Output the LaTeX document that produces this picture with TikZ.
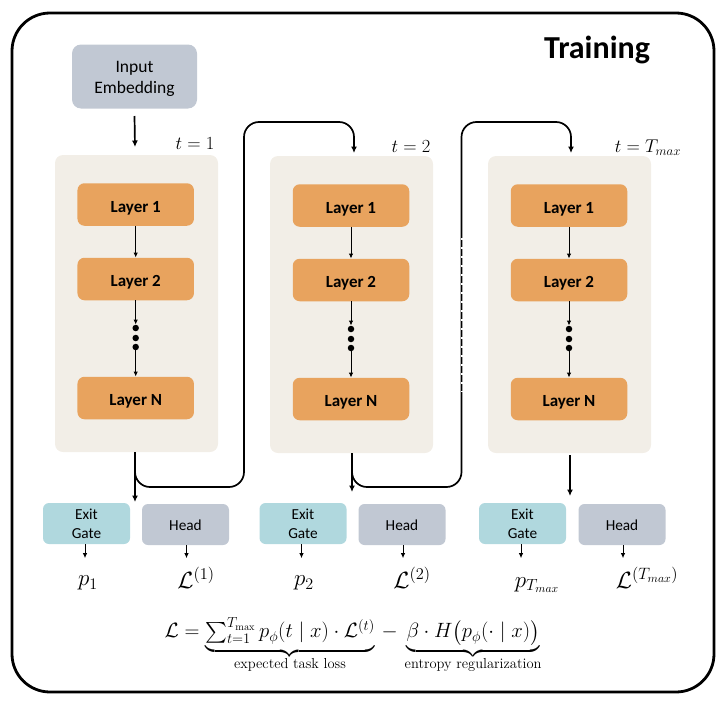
\documentclass[tikz,border=0pt]{standalone}
\usepackage{fix-cm}
\usepackage{amsmath}
\usepackage[no-math]{fontspec}
\newfontfamily\boxfont{Carlito}
\usetikzlibrary{arrows.meta}
\definecolor{boxgray}{HTML}{C1C8D3}
\definecolor{layerorange}{HTML}{E8A35E}
\definecolor{gateteal}{HTML}{B0D8DE}
\definecolor{blockbeige}{HTML}{F2EEE7}
\tikzset{
  blockbox/.style={fill=blockbeige,rounded corners=8pt,minimum width=163pt,minimum height=297pt,inner sep=0pt},
  layerbox/.style={fill=layerorange,rounded corners=7pt,minimum width=116.5pt,minimum height=42.5pt,inner sep=0pt,text height=15pt,text depth=0pt,font=\boxfont\fontsize{17}{19}\selectfont\bfseries},
  gatebox/.style={fill=gateteal,rounded corners=6pt,minimum width=87pt,minimum height=41pt,inner sep=0pt,align=center,text height=29pt,text depth=0pt,font=\boxfont\fontsize{15.3}{19}\selectfont},
  headbox/.style={fill=boxgray,rounded corners=6pt,minimum width=87pt,minimum height=41pt,inner sep=0pt,text height=11pt,text depth=0pt,font=\boxfont\fontsize{15.3}{18}\selectfont},
  smallarrow/.style={-{Latex[length=5pt,width=4.5pt]},line width=0.9pt},
  flowarrow/.style={-{Latex[length=6.5pt,width=6pt]},line width=1.7pt},
  dotnode/.style={circle,fill=black,minimum size=6.5pt,inner sep=0pt},
  problabel/.style={inner sep=0pt,font=\fontsize{23}{26}\selectfont},
  mathlabel/.style={inner sep=0pt,font=\fontsize{23.5}{26}\selectfont},
  timelabel/.style={inner sep=0pt,font=\fontsize{18.5}{22}\selectfont},
}
\begin{document}
\begin{tikzpicture}[x=1pt,y=-1pt]
\useasboundingbox (0,0) rectangle (725,704);

\draw[line width=2.8pt,rounded corners=38pt] (12,13) rectangle (714,692);
\node[inner sep=0pt,font=\boxfont\fontsize{32}{34}\selectfont\bfseries] (title) at (597,50) {Training};

\node[fill=boxgray,rounded corners=9pt,minimum width=125pt,minimum height=64pt,inner sep=0pt,align=center,text height=33pt,text depth=0pt,font=\boxfont\fontsize{17.5}{21}\selectfont] (input) at (134.5,76.5) {Input\\Embedding};

% blocks with their layers
\foreach \i/\bx/\lx/\by in {1/136.5/135.7/0,2/351.5/351/1,3/569.5/569/1}{
\node[blockbox] (block\i) at (\bx,303.5+\by) {};
\node[layerbox] (layera\i) at (\lx,204.5+\by) {Layer 1};
\node[layerbox] (layerb\i) at (\lx,279+\by) {Layer 2};
\node[layerbox] (layern\i) at (\lx,398+\by) {Layer N};
\node[dotnode] (dota\i) at (\lx,328+\by) {};
\node[dotnode] (dotb\i) at (\lx,338+\by) {};
\node[dotnode] (dotc\i) at (\lx,347+\by) {};
\draw[smallarrow] (layera\i) -- (layerb\i);
\draw[smallarrow] (layerb\i) -- (dota\i);
\draw[smallarrow] (dotc\i) -- (layern\i);
}

% gates, heads and what comes out of them
\foreach \i/\gx/\hx/\px/\py/\ptext/\ltext/\lx in {1/86.5/185.5/88/583/p_1/{(1)}/196,2/303/402/304/583/p_2/{(2)}/412,3/522.5/622/537/585/p_{T_{max}}/{(T_{max})}/647}{
\node[gatebox] (gate\i) at (\gx,523.5) {Exit\\Gate};
\node[headbox] (head\i) at (\hx,524.5) {Head};
\node[problabel] (prob\i) at (\px,\py) {$\ptext$};
\node[mathlabel] (loss\i) at (\lx,578) {$\mathcal{L}^{\ltext}$};
\draw[smallarrow] ([xshift=-1.5pt]gate\i.south) -- ++(0,14);
\draw[smallarrow] ([xshift=1pt]head\i.south) -- ++(0,13);
}

\node[timelabel] (tone) at (195,144) {$t=1$};
\node[timelabel] (ttwo) at (411,147) {$t=2$};
\node[timelabel] (tmax) at (648,148) {$t=T_{max}$};

% connectors between the blocks
\coordinate (outa) at (135,452);
\coordinate (outb) at (352,453);
\coordinate (outc) at (570,455);
\coordinate (gatea) at (135,502);
\coordinate (gateb) at (352,492);
\coordinate (gatec) at (570,496);
\coordinate (ina) at (135,147);
\coordinate (inb) at (354,153);
\coordinate (inc) at (571,153);

\draw[flowarrow] (input.south |- 0,116) -- (ina);
\draw[flowarrow] (outa) -- (gatea);
\draw[flowarrow] (outb) -- (gateb);
\draw[flowarrow] (outc) -- (gatec);
\draw[flowarrow,rounded corners=15pt] (outa) -- (135,487) -- (244,487) -- (244,122) -- (354,122) -- (inb);
\draw[flowarrow,rounded corners=15pt] (outb) -- (352,487) -- (461.5,487) -- (461.5,122) -- (571,122) -- (inc);
\draw[white,line width=2pt,dash pattern=on 1.5pt off 7.5pt] (461.5,238) -- (461.5,392);

\node[inner sep=0pt,font=\fontsize{20.7}{24}\selectfont] (formula) at (353,646)
{$\displaystyle \mathcal{L} = \underbrace{\textstyle\sum_{t=1}^{T_{\max}} p_\phi(t \mid x)\cdot\mathcal{L}^{(t)}\rule[-9pt]{0pt}{9pt}}_{\text{expected task loss}}\,-\,\underbrace{\beta\cdot H\bigl(p_\phi(\cdot\mid x)\bigr)\rule[-9pt]{0pt}{9pt}}_{\text{entropy regularization}}$};
\end{tikzpicture}
\end{document}
